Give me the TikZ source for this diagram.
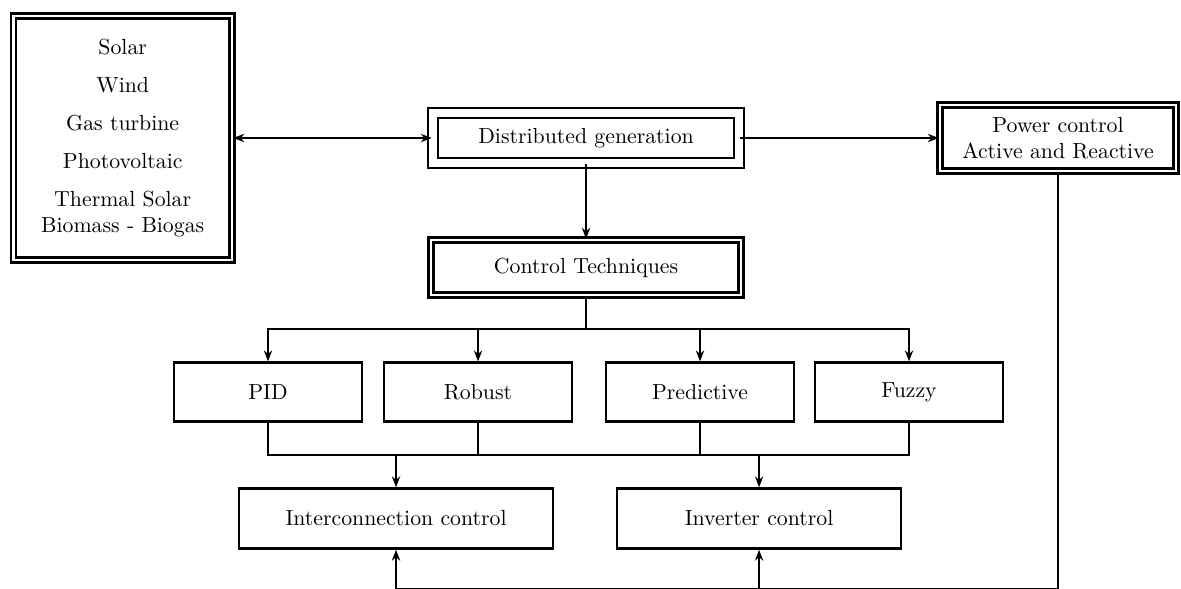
\documentclass[tikz,border=0pt]{standalone}
\usepackage{tikz}
\usetikzlibrary{arrows.meta, positioning}

\begin{document}
\begin{tikzpicture}[node distance=1.2cm,
                box/.style={draw, line width=1.1pt, minimum width=3.03cm, minimum height=0.95cm,
                            align=center},
                dbox/.style={box, double, double distance=1.2pt},
                link/.style={line width=1.1pt, -{Stealth[length=5pt, width=3.8pt]}},
                wire/.style={line width=1.1pt}]
                \useasboundingbox (0,0) rectangle (19.05,-9.485);

                \node[dbox, double distance=3.5pt, minimum width=4.94cm, minimum height=0.81cm]
                      (dg) at (9.453,-2.226) {Distributed generation};
                \node[dbox, minimum width=3.53cm, minimum height=3.94cm, left=3.2cm of dg] (src)
                      {Solar\\[5.5pt] Wind\\[5.5pt] Gas turbine\\[5.5pt] Photovoltaic\\[5.5pt]
                       Thermal Solar\\ Biomass - Biogas};
                \node[dbox, minimum width=3.81cm, minimum height=1.06cm, right=3.2cm of dg] (pwr)
                      {Power control\\ Active and Reactive};
                \node[dbox, minimum width=5.0cm, minimum height=0.89cm, below=1.2cm of dg] (tech)
                      {Control Techniques};

                \node[box] (pid)   at (4.323,-6.323)  {PID};
                \node[box] (rob)   at (7.711,-6.323)  {Robust};
                \node[box] (pred)  at (11.292,-6.323) {Predictive};
                \node[box] (fuzzy) at (14.663,-6.323) {Fuzzy};

                \node[box, minimum width=5.07cm, minimum height=0.97cm] (inter) at (6.388,-8.364)
                      {Interconnection control};
                \node[box, minimum width=4.58cm, minimum height=0.97cm] (inv) at (12.244,-8.364)
                      {Inverter control};

                % top row
                \draw[line width=1.1pt, {Stealth[length=5pt, width=3.8pt]}-{Stealth[length=5pt, width=3.8pt]}]
                      (src) -- (dg);
                \draw[link] (dg) -- (pwr);
                \draw[link] (dg) -- (tech);

                % split into the techniques
                \coordinate[below=0.53cm of tech] (split);
                \draw[wire] (tech) -- (split);
                \draw[link] (split) -| (pid);   \draw[link] (split) -| (rob);
                \draw[link] (split) -| (pred);  \draw[link] (split) -| (fuzzy);

                % merge into the two controllers
                \coordinate[above=0.52cm of inter] (ja);
                \coordinate[above=0.52cm of inv]   (jb);
                \draw[wire] (pid) |- (ja) -| (rob);
                \draw[wire] (pred) |- (jb) -| (fuzzy);
                \draw[wire] (ja) -- (jb);
                \draw[link] (ja) -- (inter);    \draw[link] (jb) -- (inv);

                % feedback from power control
                \coordinate (ba) at (inter.south |- 0,-9.505);
                \coordinate (bb) at (inv.south |- 0,-9.505);
                \draw[wire] (pwr) |- (ba);
                \draw[link] (ba) -- (inter);    \draw[link] (bb) -- (inv);
            \end{tikzpicture}
\end{document}
